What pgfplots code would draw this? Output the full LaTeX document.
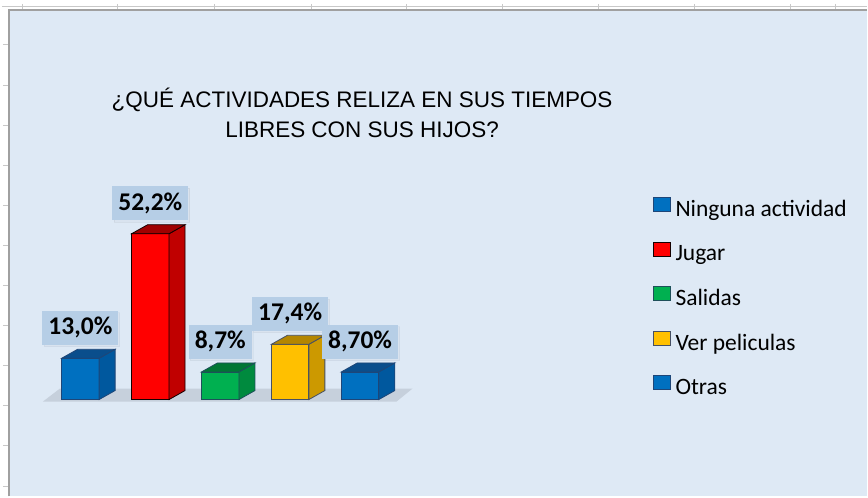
\documentclass[border=0pt]{standalone}
\usepackage{pgfplots}
\pgfplotsset{compat=1.18}
\usepackage{fontspec}
\setmainfont{Carlito}
\newfontfamily\arialfont{Liberation Sans}
\usetikzlibrary{shadows}

\definecolor{fondo}{RGB}{222,233,245}
\definecolor{caja}{RGB}{182,206,230}
\definecolor{piso}{RGB}{198,208,220}
\definecolor{rejilla}{RGB}{200,200,200}
\definecolor{marco}{RGB}{160,160,160}
\definecolor{azul}{RGB}{0,112,192}
\definecolor{azulL}{RGB}{0,88,158}
\definecolor{azulT}{RGB}{10,78,140}
\definecolor{azulB}{RGB}{30,70,120}
\definecolor{rojo}{RGB}{255,0,0}
\definecolor{rojoL}{RGB}{192,0,0}
\definecolor{rojoT}{RGB}{160,0,0}
\definecolor{rojoB}{RGB}{20,0,0}
\definecolor{verde}{RGB}{0,176,80}
\definecolor{verdeL}{RGB}{0,138,62}
\definecolor{verdeT}{RGB}{0,118,52}
\definecolor{verdeB}{RGB}{30,80,90}
\definecolor{amarillo}{RGB}{255,192,0}
\definecolor{amarilloL}{RGB}{204,153,0}
\definecolor{amarilloT}{RGB}{180,134,0}
\definecolor{amarilloB}{RGB}{70,80,100}

% caras lateral y superior de cada barra (origen = arriba al centro)
\newcommand\cajatresd[4]{%
  \pgfdeclareplotmark{caja#1}{%
    \pgfmathsetlengthmacro\hh{\hval*3.18pt}%
    \pgfsetlinewidth{0.8pt}\pgfsetstrokecolor{#4}%
    \pgfsetfillcolor{#2}%
    \pgfpathmoveto{\pgfpoint{18.75pt}{0pt}}%
    \pgfpathlineto{\pgfpoint{34.75pt}{9pt}}%
    \pgfpathlineto{\pgfpoint{34.75pt}{9pt-\hh}}%
    \pgfpathlineto{\pgfpoint{18.75pt}{-\hh}}%
    \pgfpathclose\pgfusepath{fill,stroke}%
    \pgfsetfillcolor{#3}%
    \pgfpathmoveto{\pgfpoint{-18.75pt}{0pt}}%
    \pgfpathlineto{\pgfpoint{18.75pt}{0pt}}%
    \pgfpathlineto{\pgfpoint{34.75pt}{9pt}}%
    \pgfpathlineto{\pgfpoint{-2.75pt}{9pt}}%
    \pgfpathclose\pgfusepath{fill,stroke}%
  }}
\cajatresd{azul}{azulL}{azulT}{azulB}
\cajatresd{rojo}{rojoL}{rojoT}{rojoB}
\cajatresd{verde}{verdeL}{verdeT}{verdeB}
\cajatresd{amarillo}{amarilloL}{amarilloT}{amarilloB}

\begin{document}
\begin{tikzpicture}
% fondo de la hoja y del grafico
\begin{scope}[x=1pt,y=-1pt,yshift=497pt]
  \fill[white] (0,0) rectangle (868,497);
  \draw[rejilla, line width=1.2pt] (2,6.5) -- (868,6.5);
  \foreach \gx in {23,118,215,312,407,503,599,695,791,836}
    \draw[rejilla, line width=1pt] (\gx,4) -- (\gx,9);
  \foreach \gy in {45,86,126,166,206,246,286,326,366,406,446,487}
    \draw[rejilla, line width=1pt] (3,\gy) -- (8,\gy);
  \fill[fondo] (8,10) rectangle (868,497);
  \draw[marco, line width=2pt] (9,497) -- (9,10.5) -- (868,10.5);
  % piso
  \fill[piso] (43,402) -- (397,402) -- (413,389) -- (60,389) -- cycle;
  % titulo
  \node[font=\arialfont\fontsize{22.5}{22.5}\selectfont, anchor=base, inner sep=0pt]
    at (362.5,108) {¿QUÉ ACTIVIDADES RELIZA EN SUS TIEMPOS};
  \node[font=\arialfont\fontsize{22.5}{22.5}\selectfont, anchor=base, inner sep=0pt]
    at (362.5,138) {LIBRES CON SUS HIJOS?};
\end{scope}

\begin{axis}[
    at={(0,0)}, anchor=south west,
    x=70pt, y=3.18pt,
    xmin=-1.15, xmax=11.25,
    ymin=-30.5031, ymax=125.7862,
    hide axis,
    clip=false,
    barra/.style={
        ybar, bar width=37.5pt, bar shift=0pt, line width=0.8pt,
        point meta=explicit symbolic,
        nodes near coords,
        every node near coord/.append style={
            font=\bfseries\fontsize{25.5}{25.5}\selectfont,
            fill=caja, inner xsep=6pt, minimum height=34pt,
            anchor=south, yshift=13pt,
            drop shadow={opacity=0.05, shadow xshift=1.5pt, shadow yshift=-2pt}},
        legend image code/.code={
            \draw[##1, line width=0.9pt] (0pt,-2pt) rectangle (17pt,12pt);}
    },
    caras/.style={forget plot, only marks, mark=#1,
        visualization depends on={rawy \as \hval}},
    legend style={at={(axis description cs:0.7525,0.604)}, anchor=north west,
        draw=none, fill=none, font=\fontsize{23.5}{23.5}\selectfont,
        row sep=22.5pt, inner sep=0pt, nodes={inner sep=1pt},
        /tikz/every odd column/.append style={column sep=4pt}},
    legend cell align=left,
]

\addplot[barra, fill=azul, draw=azulB] coordinates {(0,13.0) [13,0\%]};
\addplot[caras=cajaazul] coordinates {(0,13.0)};

\addplot[barra, fill=rojo, draw=rojoB] coordinates {(1,52.2) [52,2\%]};
\addplot[caras=cajarojo] coordinates {(1,52.2)};

\addplot[barra, fill=verde, draw=verdeB] coordinates {(2,8.7) [8,7\%]};
\addplot[caras=cajaverde] coordinates {(2,8.7)};

\addplot[barra, fill=amarillo, draw=amarilloB] coordinates {(3,17.4) [17,4\%]};
\addplot[caras=cajaamarillo] coordinates {(3,17.4)};

\addplot[barra, fill=azul, draw=azulB] coordinates {(4,8.7) [8,70\%]};
\addplot[caras=cajaazul] coordinates {(4,8.7)};

\legend{Ninguna actividad, Jugar, Salidas, Ver peliculas, Otras}
\end{axis}
\end{tikzpicture}
\end{document}
